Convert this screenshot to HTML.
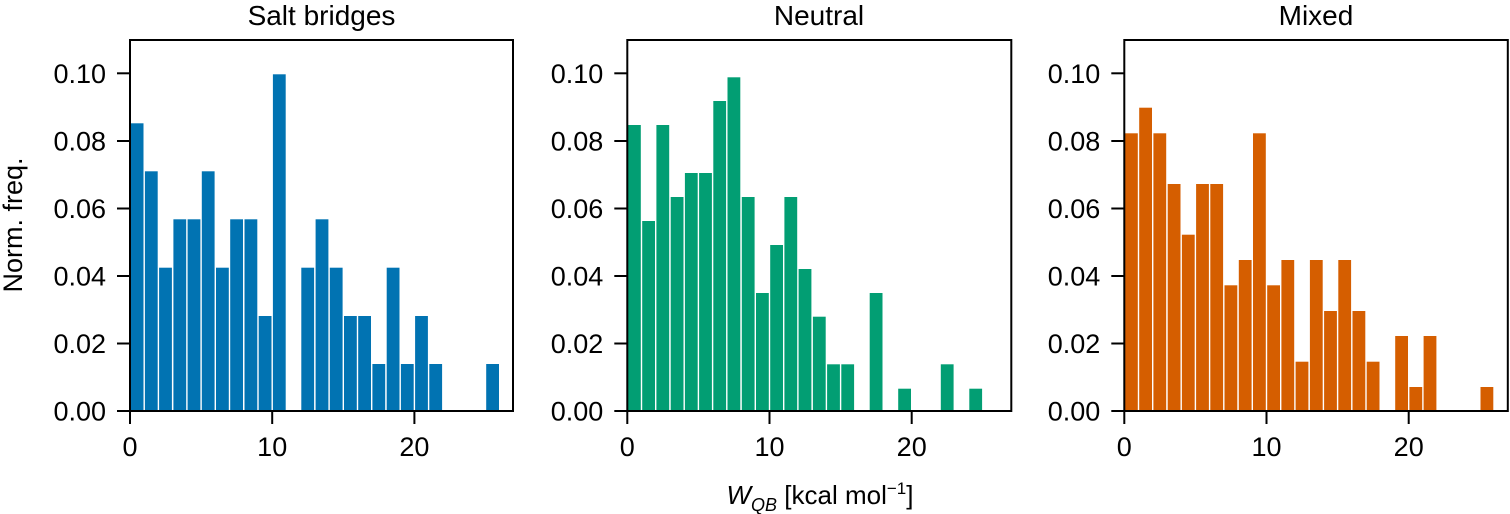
<!DOCTYPE html>
<html><head><meta charset="utf-8"><style>
html,body{margin:0;padding:0;background:#fff;}
svg{display:block;font-family:"Liberation Sans",Arial,sans-serif;}
</style></head><body>
<svg width="1510" height="514" viewBox="0 0 1510 514" xmlns="http://www.w3.org/2000/svg">
<defs>
<g id="ticks">
 <g stroke="#000" stroke-width="2">
  <line x1="-13" y1="411" x2="0" y2="411"/>
  <line x1="-13" y1="343.5" x2="0" y2="343.5"/>
  <line x1="-13" y1="276" x2="0" y2="276"/>
  <line x1="-13" y1="208.5" x2="0" y2="208.5"/>
  <line x1="-13" y1="141" x2="0" y2="141"/>
  <line x1="-13" y1="73.3" x2="0" y2="73.3"/>
  <line x1="0" y1="411" x2="0" y2="424"/>
  <line x1="142.2" y1="411" x2="142.2" y2="424"/>
  <line x1="284.4" y1="411" x2="284.4" y2="424"/>
 </g>
 <g font-size="27" text-anchor="end">
  <text x="-24" y="420.5">0.00</text>
  <text x="-24" y="353">0.02</text>
  <text x="-24" y="285.5">0.04</text>
  <text x="-24" y="218">0.06</text>
  <text x="-24" y="150.5">0.08</text>
  <text x="-24" y="82.8">0.10</text>
 </g>
 <g font-size="27" text-anchor="middle">
  <text x="0" y="456">0</text>
  <text x="142.2" y="456">10</text>
  <text x="284.4" y="456">20</text>
 </g>
</g>
</defs>

<g transform="translate(130,0)" fill="#0173b2">
<rect x="0.7" y="123.3" width="12.8" height="287.7"/>
<rect x="14.9" y="171.3" width="12.8" height="239.7"/>
<rect x="29.1" y="267.7" width="12.8" height="143.3"/>
<rect x="43.4" y="219.3" width="12.8" height="191.7"/>
<rect x="57.6" y="219.3" width="12.8" height="191.7"/>
<rect x="71.8" y="171.3" width="12.8" height="239.7"/>
<rect x="86.0" y="267.7" width="12.8" height="143.3"/>
<rect x="100.2" y="219.3" width="12.8" height="191.7"/>
<rect x="114.5" y="219.3" width="12.8" height="191.7"/>
<rect x="128.7" y="316" width="12.8" height="95"/>
<rect x="142.9" y="74.3" width="12.8" height="336.7"/>
<rect x="171.3" y="267.7" width="12.8" height="143.3"/>
<rect x="185.6" y="219.3" width="12.8" height="191.7"/>
<rect x="199.8" y="267.7" width="12.8" height="143.3"/>
<rect x="214.0" y="316" width="12.8" height="95"/>
<rect x="228.2" y="316" width="12.8" height="95"/>
<rect x="242.4" y="364" width="12.8" height="47"/>
<rect x="256.7" y="267.7" width="12.8" height="143.3"/>
<rect x="270.9" y="364" width="12.8" height="47"/>
<rect x="285.1" y="316" width="12.8" height="95"/>
<rect x="299.3" y="364" width="12.8" height="47"/>
<rect x="356.2" y="364" width="12.8" height="47"/>
</g>
<g transform="translate(130,0)"><use href="#ticks"/></g>
<rect x="130" y="40" width="383" height="371" fill="none" stroke="#000" stroke-width="2"/>

<g transform="translate(627.3,0)" fill="#029e73">
<rect x="0.7" y="125" width="12.8" height="286"/>
<rect x="14.9" y="221" width="12.8" height="190"/>
<rect x="29.1" y="125" width="12.8" height="286"/>
<rect x="43.4" y="197" width="12.8" height="214"/>
<rect x="57.6" y="173" width="12.8" height="238"/>
<rect x="71.8" y="173" width="12.8" height="238"/>
<rect x="86.0" y="101" width="12.8" height="310"/>
<rect x="100.2" y="77.3" width="12.8" height="333.7"/>
<rect x="114.5" y="197" width="12.8" height="214"/>
<rect x="128.7" y="293" width="12.8" height="118"/>
<rect x="142.9" y="245" width="12.8" height="166"/>
<rect x="157.1" y="197" width="12.8" height="214"/>
<rect x="171.3" y="269" width="12.8" height="142"/>
<rect x="185.6" y="316.7" width="12.8" height="94.3"/>
<rect x="199.8" y="364.3" width="12.8" height="46.7"/>
<rect x="214.0" y="364.3" width="12.8" height="46.7"/>
<rect x="242.4" y="293" width="12.8" height="118"/>
<rect x="270.9" y="388.7" width="12.8" height="22.3"/>
<rect x="313.5" y="364.3" width="12.8" height="46.7"/>
<rect x="342.0" y="388.7" width="12.8" height="22.3"/>
</g>
<g transform="translate(627.3,0)"><use href="#ticks"/></g>
<rect x="627.3" y="40" width="384" height="371" fill="none" stroke="#000" stroke-width="2"/>

<g transform="translate(1124.3,0)" fill="#d55e00">
<rect x="0.7" y="133.3" width="12.8" height="277.7"/>
<rect x="14.9" y="107.7" width="12.8" height="303.3"/>
<rect x="29.1" y="133.3" width="12.8" height="277.7"/>
<rect x="43.4" y="184" width="12.8" height="227"/>
<rect x="57.6" y="234.7" width="12.8" height="176.3"/>
<rect x="71.8" y="184" width="12.8" height="227"/>
<rect x="86.0" y="184" width="12.8" height="227"/>
<rect x="100.2" y="285.3" width="12.8" height="125.7"/>
<rect x="114.5" y="260" width="12.8" height="151"/>
<rect x="128.7" y="133.3" width="12.8" height="277.7"/>
<rect x="142.9" y="285.3" width="12.8" height="125.7"/>
<rect x="157.1" y="260" width="12.8" height="151"/>
<rect x="171.3" y="361.7" width="12.8" height="49.3"/>
<rect x="185.6" y="260" width="12.8" height="151"/>
<rect x="199.8" y="311" width="12.8" height="100"/>
<rect x="214.0" y="260" width="12.8" height="151"/>
<rect x="228.2" y="311" width="12.8" height="100"/>
<rect x="242.4" y="361.7" width="12.8" height="49.3"/>
<rect x="270.9" y="336" width="12.8" height="75"/>
<rect x="285.1" y="387" width="12.8" height="24"/>
<rect x="299.3" y="336" width="12.8" height="75"/>
<rect x="356.2" y="387" width="12.8" height="24"/>
</g>
<g transform="translate(1124.3,0)"><use href="#ticks"/></g>
<rect x="1124.3" y="40" width="383.5" height="371" fill="none" stroke="#000" stroke-width="2"/>

<g font-size="28" text-anchor="middle">
<text x="321.5" y="25">Salt bridges</text>
<text x="819" y="25">Neutral</text>
<text x="1316" y="25">Mixed</text>
</g>
<text transform="translate(22,225) rotate(-90)" font-size="27" text-anchor="middle">Norm. freq.</text>
<text x="820" y="504" font-size="26" text-anchor="middle"><tspan font-style="italic">W</tspan><tspan font-style="italic" font-size="18" dy="7">QB</tspan><tspan dy="-7"> [kcal mol</tspan><tspan font-size="17" dy="-10">−1</tspan><tspan dy="10">]</tspan></text>
</svg>
</body></html>
